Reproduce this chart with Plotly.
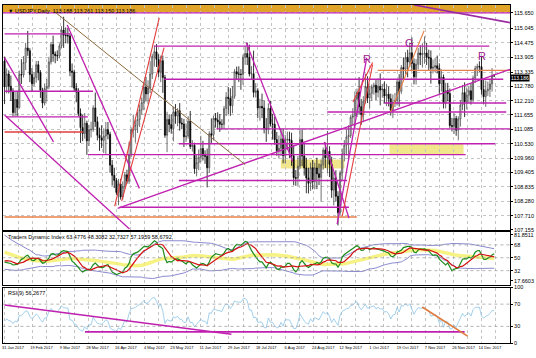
import numpy as np
import pandas as pd
import plotly.graph_objects as go
from plotly.subplots import make_subplots

# ---------------- data ----------------
# warm-up history (Nov 2016 - 30 Jan 2017) used only for indicator calculation
pre_closes = [108.40, 109.10, 109.90, 110.90, 110.90, 110.80, 111.10, 112.50, 113.30, 113.20,
              112.10, 111.90, 114.40, 114.05, 113.52, 113.96, 113.96, 113.75, 114.06, 115.30,
              115.08, 115.38, 117.23, 118.13, 117.93, 117.04, 117.86, 117.59, 117.56, 117.26,
              117.40, 117.50, 117.20, 116.55, 116.88, 117.56, 117.78, 117.25, 115.35, 116.95,
              115.93, 115.77, 115.36, 114.45, 114.50, 114.17, 112.70, 113.22, 115.14, 114.61,
              112.76, 113.79, 113.27, 114.54, 115.09, 113.77]

# daily closes, 31 Jan 2017 .. 21 Dec 2017 (one row per week)
closes = [
    112.76, 113.26, 112.78, 112.58,
    111.75, 112.26, 111.95, 113.24, 113.22,
    113.71, 114.28, 114.17, 113.24, 112.88,
    113.12, 113.62, 113.31, 112.62, 112.12,
    112.69, 112.76, 113.73, 114.41, 114.04,
    113.98, 113.97, 114.36, 114.98, 114.78,
    114.76, 114.75, 113.37, 113.33, 112.70,
    112.55, 111.71, 111.16, 110.93, 111.33,
    110.64, 111.07, 111.09, 111.93, 111.39,
    110.86, 110.75, 110.66, 110.83, 111.08,
    110.90, 109.69, 109.29, 109.09, 108.62,
    108.95, 108.44, 108.85, 109.31, 109.06,
    110.10, 111.07, 111.07, 111.25, 111.48,
    111.86, 112.14, 112.75, 112.48, 112.71,
    113.26, 113.95, 114.13, 113.83, 113.34,
    113.78, 113.12, 110.86, 111.48, 111.28,
    111.12, 111.78, 111.61, 111.82, 111.34,
    111.30, 110.80, 110.83, 111.41, 110.42,
    110.47, 109.55, 109.79, 110.00, 110.34,
    110.07, 110.04, 109.59, 110.92, 110.86,
    111.53, 111.46, 111.39, 111.29, 111.29,
    111.91, 112.35, 112.30, 112.02, 112.39,
    113.35, 113.26, 113.25, 113.24, 113.92,
    114.06, 113.91, 113.26, 113.27, 112.54,
    112.60, 111.93, 111.99, 111.93, 111.13,
    111.10, 111.91, 111.30, 111.29, 110.69,
    110.26, 110.35, 110.72, 110.06, 110.68,
    110.70, 110.66, 110.06, 109.20, 109.18,
    109.65, 110.69, 110.05, 109.58, 109.19,
    108.98, 109.59, 109.04, 109.58, 109.35,
    109.21, 109.71, 110.28, 109.98, 110.23,
    109.72, 108.71, 109.19, 108.47, 107.83,
    109.38, 110.14, 110.47, 110.79, 110.85,
    111.56, 111.62, 112.27, 112.54, 111.98,
    111.67, 112.19, 112.77, 112.32, 112.50,
    112.75, 112.82, 112.54, 112.78, 112.63,
    112.67, 112.40, 112.47, 112.29, 111.83,
    112.16, 112.22, 112.95, 112.58, 113.51,
    113.45, 113.91, 113.73, 114.09, 113.67,
    113.15, 113.64, 114.08, 114.01, 114.06,
    114.08, 113.91, 113.88, 113.48, 113.53,
    113.58, 113.48, 112.88, 113.14, 112.11,
    112.61, 112.49, 111.24, 111.21, 111.52,
    111.06, 111.50, 112.04, 112.53, 112.17,
    112.43, 112.60, 112.26, 113.10, 113.48,
    113.56, 113.54, 112.65, 112.37, 112.60,
    112.66, 112.87, 113.19, 113.186,
]

up_wick = [
    .17, .22, .14, .42,
    .12, .29, .30, .15, .60,
    .25, .20, .67, .10, .25,
    .20, .15, .15, .10, .10,
    .20, .30, .20, .10, .35,
    .10, .20, .10, .15, .52,
    .30, .30, .10, .30, .10,
    .20, .15, .20, .50, .40,
    .10, .20, .30, .10, .60,
    .20, .30, .50, .30, .30,
    .30, .10, .20, .30, .10,
    .20, .20, .20, .10, .20,
    .50, .10, .60, .20, .30,
    .20, .20, .20, .40, .30,
    .50, .10, .24, .30, .20,
    .20, .20, .10, .30, .20,
    .40, .20, .30, .10, .30,
    .20, .20, .50, .20, .40,
    .20, .10, .30, .30, .50,
    .30, .20, .30, .10, .60,
    .10, .20, .30, .30, .20,
    .10, .20, .40, .40, .40,
    .10, .20, .30, .20, .10,
    .30, .43, .50, .30, .90,
    .30, .10, .30, .50, .30,
    .40, .20, .30, .40, .30,
    .30, .50, .40, .40, .20,
    .30, .30, .30, .40, .30,
    .40, .40, .40, .50, .40,
    .40, .20, .30, .20, .40,
    .40, .20, .10, .30, .80,
    .20, .30, .20, .30, .20,
    .10, .20, .20, .30, .40,
    .10, .30, .30, .15, .60,
    .30, .20, .50, .40, .30,
    .10, .10, .20, .30, .50,
    .20, .30, .40, .30, .20,
    .30, .30, .10, .30, .10,
    .40, .20, .30, .40, .60,
    .20, .20, .20, .30, .40,
    .65, .40, .30, .30, .30,
    .30, .40, .20, .30, .10,
    .30, .30, .20, .30, .20,
    .10, .10, .20, .30, .40,
    .30, .20, .30, .10, .10,
    .10, .20, .40, .40, .40,
    .30, .20, .30, .07,
]

dn_wick = [
    .68, .26, .28, .38,
    .15, .15, .35, .05, .35,
    .10, .30, .20, .30, .30,
    .10, .20, .30, .30, .20,
    .10, .50, .10, .10, .30,
    .30, .20, .10, .10, .50,
    .30, .30, .20, .60, .15,
    .40, .10, .60, .30, .20,
    .55, .20, .30, .10, .20,
    .20, .50, .30, .50, .70,
    .20, .30, .40, .30, .10,
    .50, .10, .10, .10, .10,
    .10, .10, .30, .50, .30,
    .30, .20, .30, .30, .40,
    .20, .20, .40, .30, .20,
    .40, .60, .10, .66, .30,
    .20, .50, .30, .40, .30,
    .20, .40, .20, .10, .10,
    .20, .20, .30, .30, .20,
    .20, .30, .77, .20, .30,
    .20, .30, .30, .30, .20,
    .20, .30, .60, .40, .30,
    .10, .20, .30, .60, .40,
    .30, .30, .10, .20, .20,
    .20, .40, .50, .40, .20,
    .50, .20, .10, .60, .20,
    .20, .30, .30, .30, .30,
    .40, .70, .40, .30, .30,
    .30, .10, .40, .30, .60,
    .40, .30, .30, .30, .60,
    .30, .95, .20, .40, .60,
    .50, .30, .60, .20, .50,
    .10, .30, .30, .40, .90,
    .10, .30, .40, .70, .30,
    .40, .30, .10, .20, .40,
    .30, .30, .30, .20, .60,
    .30, .30, .40, .30, .20,
    .30, .20, .20, .60, .10,
    .40, .20, .60, .20, .30,
    .30, .30, .20, .40, .50,
    .40, .30, .50, .60, .20,
    .20, .20, .40, .30, .20,
    .20, .30, .10, .20, .30,
    .22, .40, .30, .20, .60,
    .30, .30, .20, .10, .20,
    .30, .20, .20, .30, .40,
    .20, .30, .30, .04,
]

date_labels = ["31 Jan 2017", "19 Feb 2017", "9 Mar 2017", "28 Mar 2017", "16 Apr 2017",
               "4 May 2017", "23 May 2017", "11 Jun 2017", "29 Jun 2017", "18 Jul 2017",
               "6 Aug 2017", "24 Aug 2017", "12 Sep 2017", "1 Oct 2017", "19 Oct 2017",
               "7 Nov 2017", "26 Nov 2017", "14 Dec 2017"]
date_bar = [0, 13.5, 27, 40, 53.5, 67, 80, 93.5, 107, 120, 133.5, 147, 160, 173.5, 187, 200, 213.5, 226]

price_ticks = [115.650, 115.045, 114.475, 113.905, 113.335, 112.780, 112.210, 111.655,
               111.085, 110.530, 109.960, 109.405, 108.835, 108.280, 107.710, 107.155]
tdi_ticks = [81.8511, 68, 50, 32, 17.6603]
tdi_tick_text = ["81.8511", "68", "50", "32", "17.6603"]
rsi_ticks = [100, 70, 30, 0]

# drawn objects: (price, from_bar, to_bar)
magenta_levels = [(115.65, -1, 240), (114.83, 0, 31.1), (114.35, 70.9, 229.7), (113.05, 75.6, 236.3),
                  (112.58, 0, 41.9), (112.12, 180.1, 237.7), (111.77, 152.9, 237.7), (111.58, 0.7, 39.5),
                  (111.11, 100.4, 240), (110.53, 82.6, 232.5), (110.10, 39.5, 218.5),
                  (109.09, 82.6, 162.3), (108.04, 54.5, 163.2)]
orange_levels = [(113.40, 176.8, 240), (107.66, 0, 166.9)]
red_levels = [(110.99, 0, 37.2)]
# zones: (from_bar, to_bar, top, bottom)
yellow_zones = [(130.9, 161.0, 109.91, 109.56), (182.4, 217.5, 110.53, 110.10)]
top_zone = (-1, 240, 116.5, 115.69)
# trend lines: (bar0, price0, bar1, price1)
magenta_trends = [(53.6, 108.00, 239.5, 113.44), (0, 113.90, 23.2, 110.60), (0, 111.65, 59.2, 107.19),
                  (29.7, 115.18, 63.9, 108.78), (114.5, 114.49, 136.5, 109.83),
                  (151.5, 110.60, 163.2, 107.62), (157.6, 107.38, 171.6, 113.90)]
red_trends = [(52.2, 108.08, 73.3, 115.46), (55.5, 108.28, 75.6, 114.29),
              (160.0, 107.69, 174.4, 113.63), (165.1, 112.16, 174.4, 113.71)]
orange_trends = [(182.9, 111.77, 198.8, 114.95)]
brown_trends = [(23.2, 115.73, 114.0, 109.71)]
purple_trends = [(194.1, 115.96, 239.5, 115.27)]
marks = [("R", 171.6, 113.83), ("G", 191.8, 114.49), ("R", 226.0, 113.98)]
rsi_magenta = [(0, 68.4, 107.5, 15.8), (38.1, 20.0, 218.0, 20.0)]
rsi_orange = [(197.9, 64.9, 219.4, 12.3)]

title_text = "\u25BC USDJPY,Daily  113.188 113.261 113.150 113.186"
tdi_text = "Traders Dynamic Index 63.4776 48.3082 32.7327 57.1959 58.6792"
rsi_text = "RSI(9) 56.2677"
last_price = 113.186

# ---------------- calculations ----------------
n = len(closes)
bars = np.arange(n)
opens = [pre_closes[-1]] + closes[:-1]
highs = [max(o, c) + u for o, c, u in zip(opens, closes, up_wick)]
lows = [min(o, c) - d for o, c, d in zip(opens, closes, dn_wick)]

allc = pd.Series(pre_closes + closes)


def wilder_rsi(s, p):
    d = s.diff()
    up = d.clip(lower=0)
    dn = -d.clip(upper=0)
    au = up.ewm(alpha=1 / p, adjust=False).mean()
    ad = dn.ewm(alpha=1 / p, adjust=False).mean()
    return 100 - 100 / (1 + au / ad)


r13 = wilder_rsi(allc, 13)
green = r13.rolling(2).mean()
red = r13.rolling(7).mean()
yellow = r13.rolling(34, min_periods=10).mean()
sd = r13.rolling(34, min_periods=10).std(ddof=0)
upper = yellow + 1.6185 * sd
lower = yellow - 1.6185 * sd
r9 = wilder_rsi(allc, 9)
k = len(pre_closes)
sl = slice(k, k + n)

# ---------------- figure ----------------
fig = make_subplots(rows=3, cols=1, shared_xaxes=True, vertical_spacing=0)

fig.add_trace(go.Candlestick(
    x=bars, open=opens, high=highs, low=lows, close=closes,
    increasing=dict(line=dict(color="#4a4a4a", width=0.8), fillcolor="#f4f4f4"),
    decreasing=dict(line=dict(color="#000000", width=0.8), fillcolor="#000000"),
    whiskerwidth=0, showlegend=False, hoverinfo="skip"), row=1, col=1)

fig.add_trace(go.Scatter(x=bars, y=yellow.values[sl], mode="lines",
                         line=dict(color="rgba(245,240,110,0.85)", width=3.5)), row=2, col=1)
fig.add_trace(go.Scatter(x=bars, y=upper.values[sl], mode="lines",
                         line=dict(color="#8a8ad0", width=1)), row=2, col=1)
fig.add_trace(go.Scatter(x=bars, y=lower.values[sl], mode="lines",
                         line=dict(color="#8a8ad0", width=1)), row=2, col=1)
fig.add_trace(go.Scatter(x=bars, y=green.values[sl], mode="lines",
                         line=dict(color="#1c8c1c", width=1.2)), row=2, col=1)
fig.add_trace(go.Scatter(x=bars, y=red.values[sl], mode="lines",
                         line=dict(color="#d41010", width=1.2)), row=2, col=1)
fig.add_trace(go.Scatter(x=bars, y=r9.values[sl], mode="lines",
                         line=dict(color="#8cc4e6", width=0.8)), row=3, col=1)

shapes = []
MAG = "#c020b0"
for (x0, x1, top, bot) in [top_zone]:
    shapes.append(dict(type="rect", xref="x", yref="y", x0=x0, x1=x1, y0=bot, y1=top,
                       fillcolor="#e0a428", line=dict(width=0), layer="below"))
for (x0, x1, top, bot) in yellow_zones:
    shapes.append(dict(type="rect", xref="x", yref="y", x0=x0, x1=x1, y0=bot, y1=top,
                       fillcolor="rgba(238,226,120,0.85)", line=dict(width=0), layer="below"))
for (p, a, b) in magenta_levels:
    shapes.append(dict(type="line", xref="x", yref="y", x0=a, x1=b, y0=p, y1=p,
                       line=dict(color=MAG, width=1.4)))
for (p, a, b) in orange_levels:
    shapes.append(dict(type="line", xref="x", yref="y", x0=a, x1=b, y0=p, y1=p,
                       line=dict(color="#e8804a", width=1.4)))
for (p, a, b) in red_levels:
    shapes.append(dict(type="line", xref="x", yref="y", x0=a, x1=b, y0=p, y1=p,
                       line=dict(color="#e03c3c", width=1.4)))
for group, col, w in [(magenta_trends, MAG, 1.3), (red_trends, "#e43c3c", 1.1),
                      (orange_trends, "#e8804a", 1.1), (brown_trends, "#8c6a40", 1.0),
                      (purple_trends, "#9a2aa0", 1.6)]:
    for (a, p0, b, p1) in group:
        shapes.append(dict(type="line", xref="x", yref="y", x0=a, x1=b, y0=p0, y1=p1,
                           line=dict(color=col, width=w)))
for lv in [68, 50, 32]:
    shapes.append(dict(type="line", xref="x", yref="y2", x0=-1, x1=240, y0=lv, y1=lv,
                       line=dict(color="#a0a0a0", width=0.8, dash="dot")))
for lv in [70, 30]:
    shapes.append(dict(type="line", xref="x", yref="y3", x0=-1, x1=240, y0=lv, y1=lv,
                       line=dict(color="#a0a0a0", width=0.8, dash="dot")))
for (a, v0, b, v1) in rsi_magenta:
    shapes.append(dict(type="line", xref="x", yref="y3", x0=a, x1=b, y0=v0, y1=v1,
                       line=dict(color=MAG, width=1.6)))
for (a, v0, b, v1) in rsi_orange:
    shapes.append(dict(type="line", xref="x", yref="y3", x0=a, x1=b, y0=v0, y1=v1,
                       line=dict(color="#e07a3a", width=1.6)))

annotations = []
for (t, b, p) in marks:
    annotations.append(dict(x=b, y=p, xref="x", yref="y", text=t, showarrow=False,
                            font=dict(size=11, color="#a01890", family="Liberation Sans")))
annotations.append(dict(x=0.006, y=0.998, xref="paper", yref="paper", text=title_text,
                        showarrow=False, xanchor="left", yanchor="top",
                        font=dict(size=5.5, color="#000", family="Liberation Sans")))
annotations.append(dict(x=0.006, y=0.327, xref="paper", yref="paper", text=tdi_text,
                        showarrow=False, xanchor="left", yanchor="top",
                        font=dict(size=5.5, color="#000", family="Liberation Sans")))
annotations.append(dict(x=0.006, y=0.163, xref="paper", yref="paper", text=rsi_text,
                        showarrow=False, xanchor="left", yanchor="top",
                        font=dict(size=5.5, color="#000", family="Liberation Sans")))
annotations.append(dict(x=1.0, y=last_price, xref="paper", yref="y", text=str(last_price),
                        showarrow=False, xanchor="left", yanchor="top", yshift=2, bgcolor="#000",
                        borderpad=0, font=dict(size=5, color="#fff", family="Liberation Sans")))

tickfont = dict(size=5.5, color="#000", family="Liberation Sans")
xcommon = dict(range=[-0.73, 239.5], showline=True, mirror=True, linecolor="#000", linewidth=1,
               showgrid=False, zeroline=False,
               minor=dict(tickmode="linear", tick0=0, dtick=6.647, showgrid=True,
                          gridcolor="#c4c4c4", griddash="dot", gridwidth=0.6))
ycommon = dict(side="right", showline=True, mirror=True, linecolor="#000", linewidth=1,
               zeroline=False, showgrid=True, gridcolor="#c4c4c4", griddash="dot", gridwidth=0.6,
               ticks="outside", ticklen=2, tickcolor="#000", tickfont=tickfont)

fig.update_layout(
    width=536, height=358, margin=dict(l=2, r=21, t=2, b=15),
    paper_bgcolor="white", plot_bgcolor="white", showlegend=False,
    shapes=shapes, annotations=annotations,
    xaxis=dict(xcommon, rangeslider=dict(visible=False), showticklabels=False),
    xaxis2=dict(xcommon, showticklabels=False),
    xaxis3=dict(xcommon, tickmode="array", tickvals=[b + 4 for b in date_bar], ticktext=date_labels,
                tickangle=0, tickfont=dict(size=4.0, color="#000", family="Liberation Sans"), ticks=""),
    yaxis=dict(ycommon, domain=[0.3343, 1.0], range=[107.15, 115.96], tickmode="array",
               tickvals=price_ticks, ticktext=["%.3f" % v for v in price_ticks]),
    yaxis2=dict(ycommon, domain=[0.173, 0.3284], range=[12.6, 86.0], tickmode="array",
                tickvals=tdi_ticks, ticktext=tdi_tick_text, showgrid=False),
    yaxis3=dict(ycommon, domain=[0.0, 0.1642], range=[0, 100], tickmode="array",
                tickvals=rsi_ticks, ticktext=[str(v) for v in rsi_ticks], showgrid=False),
)

fig.write_html("out.html")
